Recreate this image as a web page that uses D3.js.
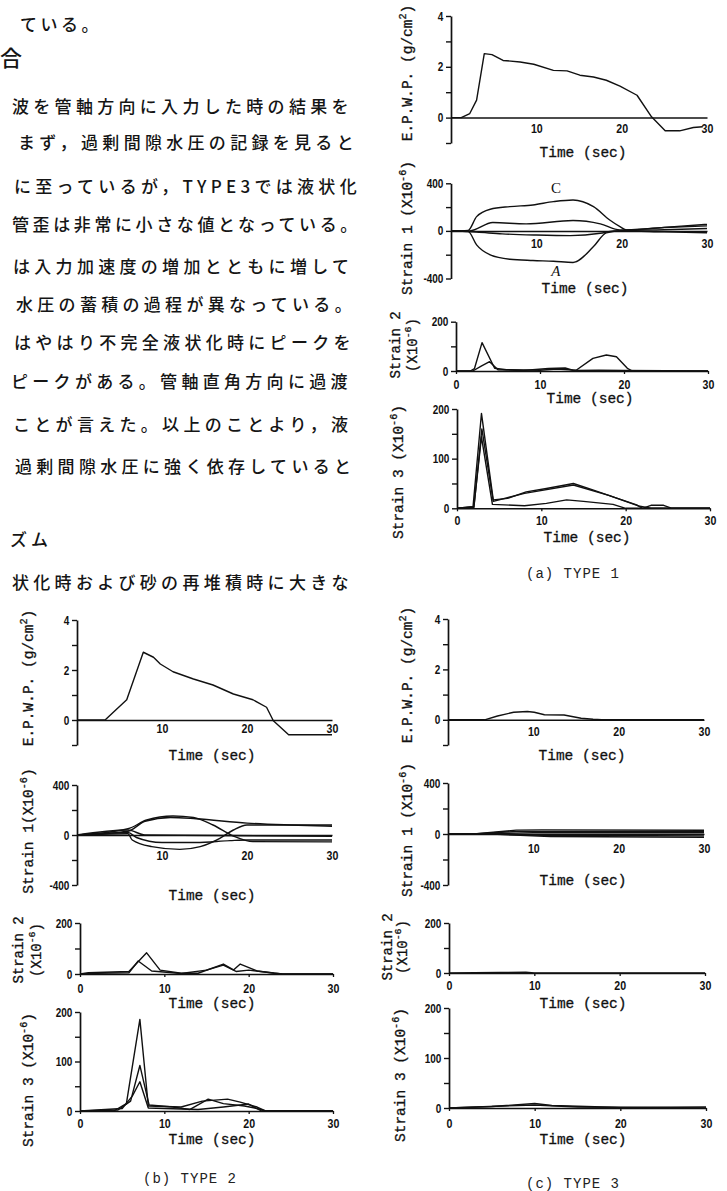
<!DOCTYPE html>
<html><head><meta charset="utf-8">
<script src="https://cdn.jsdelivr.net/npm/d3@7"></script>
<style>
body{margin:0;background:#fff;}
svg{display:block;background:#fff;}
.jp{font-family:"Noto Sans CJK JP";font-weight:500;fill:#151515;}
.num{font-family:"Liberation Sans","DejaVu Sans";font-weight:bold;font-size:12.5px;fill:#111;}
.mono{font-family:"Liberation Mono","DejaVu Sans Mono";fill:#111;stroke:#111;stroke-width:0.3;}
.cap{font-family:"Liberation Mono","DejaVu Sans Mono";fill:#222;font-size:14px;letter-spacing:1px;}
.letter{font-family:"Liberation Serif";font-size:15px;fill:#111;}
</style></head><body>
<svg id="c" width="727" height="1191"></svg>
<script>
// ---------------- DATA ----------------
const bodyText = [
  "ている。",
  "合",
  "波を管軸方向に入力した時の結果を",
  "まず，過剰間隙水圧の記録を見ると",
  "に至っているが，TYPE3では液状化",
  "管歪は非常に小さな値となっている。",
  "は入力加速度の増加とともに増して",
  "水圧の蓄積の過程が異なっている。",
  "はやはり不完全液状化時にピークを",
  "ピークがある。管軸直角方向に過渡",
  "ことが言えた。以上のことより，液",
  "過剰間隙水圧に強く依存していると",
  "ズム",
  "状化時および砂の再堆積時に大きな"
];
const captions = ["(a) TYPE 1", "(b) TYPE 2", "(c) TYPE 3"];
const timeTitle = "Time (sec)";

const timeTicksMid = [10, 20, 30];
const timeTicksFull = [0, 10, 20, 30];
const epwpTicks = [4, 3, 2, 1, 0, -1];
const epwpTickLabels = ["4", "", "2", "", "0", ""];
const strain1Ticks = [400, 200, 0, -200, -400];
const strain1TickLabels = ["400", "", "0", "", "-400"];
const strain2Ticks = [200, 100, 0];
const strain2TickLabels = ["200", "", "0"];
const strain3Ticks = [200, 150, 100, 50, 0];
const strain3TickLabels = ["200", "", "100", "", "0"];

// TYPE 1 (time sec, value)
const type1Epwp = [[0,0],[1.2,0],[2.2,0.16],[3.0,0.69],[3.9,2.52],[4.8,2.48],[6.1,2.25],[8.1,2.19],[9.7,2.10],[12.0,1.86],[13.6,1.84],[15.1,1.67],[16.7,1.60],[18.2,1.47],[19.8,1.24],[21.8,0.88],[23.5,0.03],[25.1,-0.52],[26.8,-0.52],[28.4,-0.39],[29.5,-0.36]];
const type1Strain1C = [[0,0],[2,4],[3,120],[4.6,182],[6.9,204],[9.6,218],[12,246],[14.3,260],[16.7,204],[18.6,92],[19.8,36],[20.6,8],[25,30],[30,55]];
const type1Strain1A = [[0,0],[2,-4],[3,-117],[4.6,-201],[6.9,-238],[9.6,-249],[12,-255],[14.3,-265],[16.7,-132],[18.2,-17],[20,0],[25,-8],[30,-15]];
const type1Strain1M1 = [[0,0],[2.2,0],[4.9,70],[8.8,59],[14.3,87],[17.5,59],[19.8,8],[25,28],[30,42]];
const type1Strain1M2 = [[0,0],[3,-10],[6,-25],[10,-35],[14,-40],[17.5,-20],[19,0],[25,10],[30,20]];
const type1Strain2a = [[0,0],[1.7,0],[2.2,10],[3.1,115],[4.6,11],[6,5],[10,3],[12,8],[13,6],[14.3,3],[16.3,51],[17.9,65],[19.1,58],[20.4,11],[21,0],[30,0]];
const type1Strain2b = [[0,0],[2,0],[3,20],[4,38],[5,5],[8,2],[11,10],[13,12],[14,2],[17,3],[20,2],[25,1],[30,0]];
const type1Strain3a = [[0,0],[1.9,3],[2.9,191],[4.3,17],[6,20],[8.2,33],[10.6,40],[13.8,50],[16.1,37],[18.5,23],[21.3,7],[22,0],[30,0]];
const type1Strain3b = [[0,0],[2,3],[2.9,144],[4.2,8],[8,5],[10.6,10],[13,17],[15,14],[18.5,8],[20,0],[22,0],[23,6],[24.5,6],[25.5,0],[30,0]];
const type1Strain3c = [[0,0],[2,2],[2.95,160],[4.3,14],[8,30],[13.8,47],[18,26],[21.5,5],[23,0],[30,0]];

// TYPE 2
const type2Epwp = [[0,0],[3.3,0],[5.85,0.81],[7.8,2.71],[9.0,2.51],[9.8,2.24],[11.3,1.93],[13.7,1.64],[16.0,1.40],[18.4,1.04],[20.7,0.81],[22.3,0.51],[23.1,-0.03],[24.9,-0.59],[30,-0.59]];
const type2Strain1U1 = [[0,0],[6,50],[8.2,120],[11.3,152],[13.7,140],[16,80],[18.4,-8],[20.7,-53],[30,-55]];
const type2Strain1U2 = [[0,0],[6,30],[8,110],[11,140],[14,130],[20,95],[25,80],[30,70]];
const type2Strain1L1 = [[0,0],[6,10],[6.5,-40],[8.8,-93],[12.1,-115],[14.5,-93],[16.8,-27],[18.4,40],[20,80],[30,80]];
const type2Strain1L2 = [[0,0],[6,20],[7,-20],[10,-60],[14,-60],[18,-45],[20,-40],[30,-40]];
const type2Strain1Z = [[0,0],[6,40],[8,0],[30,-10]];
const type2Strain2a = [[0,0],[1,5],[5.8,10],[7.9,83],[9.5,15],[12,3],[14,3],[17,39],[18.2,16],[19,39],[21,12],[23,3],[24,0],[30,0]];
const type2Strain2b = [[0,0],[2,3],[5.8,5],[6.9,51],[8.5,12],[12,2],[15,15],[17,35],[18.5,10],[20,15],[22,8],[24,0],[30,0]];
const type2Strain3a = [[0,0],[4,0],[5.5,15],[7.1,185],[8.1,10],[12,8],[14.5,20],[17.5,24],[19,18],[21,8],[22,0],[30,0]];
const type2Strain3b = [[0,0],[4.5,2],[6,20],[7.1,92],[8.2,12],[11,8],[13,3],[15.2,24],[17,15],[19.5,10],[21,5],[22,0],[30,0]];
const type2Strain3c = [[0,0],[5,5],[6.2,30],[7.1,59],[8.1,6],[14,3],[17,8],[20,14],[21.5,0],[30,0]];

// TYPE 3
const type3Epwp = [[0,0],[4.3,0],[5.8,0.15],[7.7,0.3],[9.3,0.33],[10.1,0.3],[11.3,0.2],[13.6,0.19],[15.6,0.06],[17,0.02],[18,0],[30,0]];
const type3Strain1a = [[0,0],[3,0],[8,30],[11,32],[30,30]];
const type3Strain1b = [[0,0],[3,0],[8,20],[30,20]];
const type3Strain1c = [[0,0],[4,0],[10,10],[30,10]];
const type3Strain1d = [[0,0],[5,0],[11,-10],[30,-15]];
const type3Strain1e = [[0,0],[5,0],[12,-20],[30,-25]];
const type3Strain2a = [[0,0],[6,2],[9,3],[10,0],[30,0]];
const type3Strain3a = [[0,0],[5,3],[10,9],[12,5],[20,1],[30,2]];
const type3Strain3b = [[0,0],[8,5],[10,6],[15,2],[30,0]];

// ---------------- DRAWING ----------------
const svg = d3.select("#c");

// body text layout: x start, centre y, letter spacing, font size
const bodyLayout = [[20,25,3.5,17],[0,58,0,22],[12,107,4.3,17],[18,143,4.3,17],[14,187,4.3,17],[12,225,3.6,17],[13,267,4.3,17],[16,305,4.3,17],[14,343,4.3,17],[11,382,4.3,17],[13,425,4.3,17],[15,467,4.3,17],[10,540,4,17],[12,583,4.3,17]];
bodyText.forEach((t, i) => {
  const [x0, cy, ls, fs] = bodyLayout[i];
  svg.append("text").attr("class", "jp").attr("x", x0).attr("y", cy + fs * 0.38)
    .style("font-size", fs + "px").style("letter-spacing", ls + "px").text(t);
});

function panel(cfg) {
  const x = d3.scaleLinear().domain([0, 30]).range([cfg.x0, cfg.x1]);
  const y = d3.scaleLinear().domain(cfg.yDomain).range([cfg.yBot, cfg.yTop]);
  const gy = svg.append("g").attr("transform", `translate(${cfg.x0},0)`)
    .call(d3.axisLeft(y).tickValues(cfg.yTicks).tickFormat((d, i) => cfg.yLabels[i])
      .tickSize(5).tickSizeOuter(0).tickPadding(3));
  gy.select(".domain").attr("stroke", "#111").attr("stroke-width", 1.7);
  gy.selectAll(".tick line").attr("stroke", "#111").attr("stroke-width", 1.4);
  gy.selectAll(".tick text").attr("class", "num").attr("font-family", null).attr("font-size", null)
    .attr("x", -9.5).attr("transform", "scale(0.8,1)");

  const gx = svg.append("g").attr("transform", `translate(0,${y(0)})`)
    .call(d3.axisBottom(x).tickValues(cfg.xTicks).tickFormat(d3.format("d"))
      .tickSize(cfg.xTickLen).tickSizeOuter(0));
  gx.select(".domain").attr("stroke", "#111").attr("stroke-width", 1.5);
  gx.selectAll(".tick line").attr("stroke", "#111").attr("stroke-width", 1.3);
  gx.selectAll(".tick text").attr("class", "num").attr("font-family", null).attr("font-size", null)
    .attr("y", cfg.xLabOff).attr("dy", 0).attr("transform", "scale(0.85,1)");

  const gen = d3.line().x(d => x(d[0])).y(d => y(d[1]))
    .curve(cfg.smooth ? d3.curveMonotoneX : d3.curveLinear);
  cfg.series.forEach(s => {
    svg.append("path").datum(s).attr("d", gen).attr("fill", "none")
      .attr("stroke", "#111").attr("stroke-width", 1.4).attr("stroke-linejoin", "round");
  });

  svg.append("text").attr("class", "mono").attr("x", cfg.timeX).attr("y", cfg.timeY)
    .attr("text-anchor", "middle").style("font-size", "14.5px").text(timeTitle);
  return {x, y};
}

function yTitle(cx, cy, main, unitPre, sup, unitPost, fs) {
  const t = svg.append("text").attr("class", "mono")
    .attr("transform", `translate(${cx + fs * 0.35},${cy}) rotate(-90)`)
    .attr("text-anchor", "middle").style("font-size", fs + "px");
  t.append("tspan").text(main + unitPre);
  t.append("tspan").attr("dy", -fs * 0.4).style("font-size", (fs * 0.7) + "px").text(sup);
  t.append("tspan").attr("dy", fs * 0.4).text(unitPost);
}
function yTitle2(cx1, cx2, cy, l1, unitPre, sup, unitPost, fs) {
  svg.append("text").attr("class", "mono")
    .attr("transform", `translate(${cx1 + fs * 0.35},${cy}) rotate(-90)`)
    .attr("text-anchor", "middle").style("font-size", fs + "px").text(l1);
  const t = svg.append("text").attr("class", "mono")
    .attr("transform", `translate(${cx2 + fs * 0.35},${cy}) rotate(-90)`)
    .attr("text-anchor", "middle").style("font-size", fs + "px");
  t.append("tspan").text(unitPre);
  t.append("tspan").attr("dy", -fs * 0.4).style("font-size", (fs * 0.7) + "px").text(sup);
  t.append("tspan").attr("dy", fs * 0.4).text(unitPost);
}

// ---- TYPE 1 ----
panel({x0: 451, x1: 707, yTop: 16, yBot: 143, yDomain: [-1, 4], yTicks: epwpTicks, yLabels: epwpTickLabels,
  xTicks: timeTicksMid, xTickLen: 0, xLabOff: 15, series: [type1Epwp], timeX: 583, timeY: 157});
const p1s1 = panel({x0: 451, x1: 707, yTop: 183.3, yBot: 278.5, yDomain: [-400, 400], yTicks: strain1Ticks, yLabels: strain1TickLabels,
  xTicks: timeTicksMid, xTickLen: 0, xLabOff: 17, smooth: true, series: [type1Strain1C, type1Strain1A, type1Strain1M1, type1Strain1M2], timeX: 585, timeY: 293});
svg.append("text").attr("class", "letter").attr("x", p1s1.x(12.3)).attr("y", p1s1.y(320)).attr("text-anchor", "middle").text("C");
svg.append("text").attr("class", "letter").attr("x", p1s1.x(12.3)).attr("y", p1s1.y(-380)).attr("text-anchor", "middle").style("font-style", "italic").text("A");
panel({x0: 456, x1: 708, yTop: 321.7, yBot: 371, yDomain: [0, 200], yTicks: strain2Ticks, yLabels: strain2TickLabels,
  xTicks: timeTicksFull, xTickLen: 3, xLabOff: 18, series: [type1Strain2a, type1Strain2b], timeX: 590, timeY: 403});
panel({x0: 457, x1: 710, yTop: 409, yBot: 508.3, yDomain: [0, 200], yTicks: strain3Ticks, yLabels: strain3TickLabels,
  xTicks: timeTicksFull, xTickLen: 3, xLabOff: 17, series: [type1Strain3a, type1Strain3b, type1Strain3c], timeX: 587, timeY: 542});
yTitle(407, 73, "E.P.W.P. ", "(g/cm", "2", ")", 14.5);
yTitle(407, 228, "Strain 1 ", "(X10", "-6", ")", 14.5);
yTitle2(395, 412, 345, "Strain 2", "(X10", "-6", ")", 14);
yTitle(398, 472, "Strain 3 ", "(X10", "-6", ")", 14.5);
svg.append("text").attr("class", "cap").attr("x", 573).attr("y", 578).attr("text-anchor", "middle").text(captions[0]);

// ---- TYPE 2 ----
panel({x0: 77, x1: 332, yTop: 620, yBot: 745, yDomain: [-1, 4], yTicks: epwpTicks, yLabels: epwpTickLabels,
  xTicks: timeTicksMid, xTickLen: 0, xLabOff: 13, series: [type2Epwp], timeX: 212, timeY: 760});
panel({x0: 77, x1: 332, yTop: 785, yBot: 885, yDomain: [-400, 400], yTicks: strain1Ticks, yLabels: strain1TickLabels,
  xTicks: timeTicksMid, xTickLen: 0, xLabOff: 25, smooth: true, series: [type2Strain1U1, type2Strain1U2, type2Strain1L1, type2Strain1L2, type2Strain1Z], timeX: 212, timeY: 900});
panel({x0: 80, x1: 333, yTop: 923, yBot: 974, yDomain: [0, 200], yTicks: strain2Ticks, yLabels: strain2TickLabels,
  xTicks: timeTicksFull, xTickLen: 3, xLabOff: 19, series: [type2Strain2a, type2Strain2b], timeX: 212, timeY: 1008});
panel({x0: 80, x1: 333, yTop: 1012, yBot: 1111, yDomain: [0, 200], yTicks: strain3Ticks, yLabels: strain3TickLabels,
  xTicks: timeTicksFull, xTickLen: 3, xLabOff: 17, series: [type2Strain3a, type2Strain3b, type2Strain3c], timeX: 212, timeY: 1144});
yTitle(28, 678, "E.P.W.P. ", "(g/cm", "2", ")", 14.5);
yTitle(28, 831, "Strain 1", "(X10", "-6", ")", 14.5);
yTitle2(18, 36, 950, "Strain 2", "(X10", "-6", ")", 14);
yTitle(28, 1080, "Strain 3 ", "(X10", "-6", ")", 14.5);
svg.append("text").attr("class", "cap").attr("x", 190).attr("y", 1183).attr("text-anchor", "middle").text(captions[1]);

// ---- TYPE 3 ----
panel({x0: 448, x1: 704, yTop: 619, yBot: 745, yDomain: [-1, 4], yTicks: epwpTicks, yLabels: epwpTickLabels,
  xTicks: timeTicksMid, xTickLen: 0, xLabOff: 16, series: [type3Epwp], timeX: 582, timeY: 760});
panel({x0: 448, x1: 704, yTop: 783, yBot: 885, yDomain: [-400, 400], yTicks: strain1Ticks, yLabels: strain1TickLabels,
  xTicks: timeTicksMid, xTickLen: 0, xLabOff: 19, series: [type3Strain1a, type3Strain1b, type3Strain1c, type3Strain1d, type3Strain1e], timeX: 583, timeY: 885});
panel({x0: 449, x1: 705, yTop: 923, yBot: 973, yDomain: [0, 200], yTicks: strain2Ticks, yLabels: strain2TickLabels,
  xTicks: timeTicksFull, xTickLen: 3, xLabOff: 17, series: [type3Strain2a], timeX: 583, timeY: 1008});
panel({x0: 449, x1: 706, yTop: 1008, yBot: 1108, yDomain: [0, 200], yTicks: strain3Ticks, yLabels: strain3TickLabels,
  xTicks: timeTicksFull, xTickLen: 3, xLabOff: 20, series: [type3Strain3a, type3Strain3b], timeX: 583, timeY: 1144});
yTitle(407, 675, "E.P.W.P. ", "(g/cm", "2", ")", 14.5);
yTitle(407, 830, "Strain 1 ", "(X10", "-6", ")", 14.5);
yTitle2(387, 402, 947, "Strain 2", "(X10", "-6", ")", 14);
yTitle(400, 1075, "Strain 3 ", "(X10", "-6", ")", 14.5);
svg.append("text").attr("class", "cap").attr("x", 573).attr("y", 1188).attr("text-anchor", "middle").text(captions[2]);
</script>
</body></html>
